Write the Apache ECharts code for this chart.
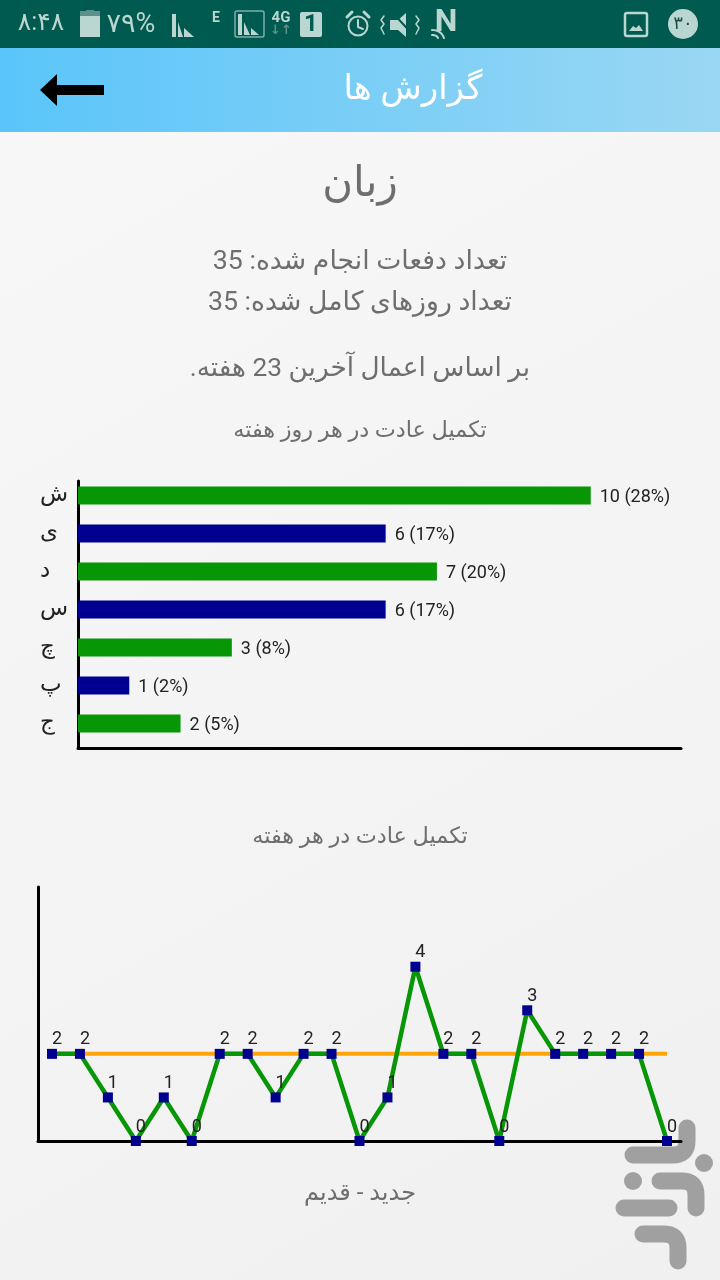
<!DOCTYPE html>
<html lang="fa">
<head>
<meta charset="utf-8">
<style>html,body{margin:0;padding:0;background:#f5f5f5}#c{width:720px;height:1280px}</style>
<script src="https://cdn.jsdelivr.net/npm/echarts@6/dist/echarts.min.js"></script>
</head>
<body>
<div id="c"></div>
<script>
const dayLabels = ['ش','ی','د','س','چ','پ','ج'];
const dayCounts = [10,6,7,6,3,1,2];
const dayPercents = [28,17,20,17,8,2,5];
const dayColors = ['#069606','#000090','#069606','#000090','#069606','#000090','#069606'];
const weekLabels = ['1','2','3','4','5','6','7','8','9','10','11','12','13','14','15','16','17','18','19','20','21','22','23'];
const weekCounts = [2,2,1,0,1,0,2,2,1,2,2,0,1,4,2,2,0,3,2,2,2,2,0];
const weekGoal = [2,2,2,2,2,2,2,2,2,2,2,2,2,2,2,2,2,2,2,2,2,2,2];

const FA = 'Roboto, "DejaVu Sans", sans-serif';
const GREY = '#6e6e6e';
const ICON = '#b9d6d0';
const text = (t, x, y, size, color, weight) => ({
  type:'text', x, y, z:5,
  style:{text:t, fill:color||GREY, font:`${weight||'normal'} ${size}px ${FA}`, textAlign:'center', textVerticalAlign:'middle'}
});
const rect = (x,y,w,h,fill,z) => ({type:'rect', z:z==null?1:z, shape:{x,y,width:w,height:h}, style:{fill}});
const poly = (pts,fill) => ({type:'polygon', z:3, shape:{points:pts}, style:{fill}});
const stroke = (pts,w,color,z) => ({type:'polyline', z:z==null?3:z, shape:{points:pts}, style:{fill:'none',stroke:color,lineWidth:w,lineCap:'round',lineJoin:'round'}});
const curve = (x0,y0,cx,cy,x1,y1) => {
  const out = [];
  for (let i = 0; i <= 8; i++) {
    const t = i / 8, u = 1 - t;
    out.push([u*u*x0 + 2*u*t*cx + t*t*x1, u*u*y0 + 2*u*t*cy + t*t*y1]);
  }
  return out;
};

const LOGO = '#a0a0a0';
const logo = [
  stroke([[687,1128],...curve(687,1141,687,1155,673,1155),[633,1155]],17,LOGO,-1),
  stroke([[660,1181],...curve(682,1181,696,1181,696,1195),[696,1208]],17,LOGO,-1),
  stroke([[624,1208],[669,1208]],17,LOGO,-1),
  stroke([[643,1234],...curve(664,1234,678,1234,678,1248),[678,1261]],17,LOGO,-1),
  {type:'circle',z:-1,shape:{cx:704,cy:1163,r:9},style:{fill:LOGO}},
  {type:'circle',z:-1,shape:{cx:633,cy:1181,r:9},style:{fill:LOGO}}
];

const statusBar = [
  rect(0,0,720,48,'#005a50',0),
  text('۸:۴۸',41,24,25,ICON),
  rect(80,15,20,22,ICON), rect(86,10,8,5,'#5c9088'), rect(80,11,20,5,'#5c9088'),
  text('۷۹%',131,25,27,ICON),
  poly([[172,37],[172,14],[176,14],[176,37]],ICON),
  poly([[178,37],[178,22],[183,37]],ICON), poly([[184,37],[184,28],[194,37]],ICON),
  text('E',216,18,14,ICON,'bold'),
  {type:'rect',z:2,shape:{x:235,y:11,width:29,height:26,r:2},style:{fill:'none',stroke:'#7fb0a8',lineWidth:1.5}},
  poly([[238,35],[238,14],[242,14],[242,35]],ICON),
  poly([[244,35],[244,22],[250,35]],ICON), poly([[251,35],[251,28],[259,35]],ICON),
  text('4G',281,18,15,ICON,'bold'),
  text('↓↑',281,31,13,'#5c9088','bold'),
  {type:'rect',z:2,shape:{x:300,y:12,width:22,height:25,r:2},style:{fill:ICON}},
  text('1',311,25,24,'#005a50','bold'),
  {type:'circle',z:2,shape:{cx:358,cy:26,r:9.5},style:{fill:'none',stroke:ICON,lineWidth:2}},
  stroke([[358,20],[358,27],[363,29]],2,ICON),
  stroke([[347,17],[352,12]],3,ICON),
  stroke([[364,12],[369,17]],3,ICON),
  poly([[398,20],[406,13],[406,37],[398,30],[390,30],[390,20]],ICON),
  stroke([[392,12],[414,36]],2,'#005a50'),
  stroke([[384,16],[381,20],[384,24],[381,28],[384,34]],1.5,ICON),
  stroke([[416,16],[419,20],[416,24],[419,28],[416,34]],1.5,ICON),
  text('N',446,23,32,ICON,'bold'),
  stroke(curve(432,31,440,31,442,38),2.5,'#005a50'),
  stroke(curve(432,30,441,30,444,38),2,ICON),
  stroke(curve(432,35,437,35,438,38),2,ICON),
  {type:'rect',z:2,shape:{x:625,y:13,width:22,height:23,r:2},style:{fill:'none',stroke:ICON,lineWidth:2.5}},
  poly([[629,31],[633,26],[636,28],[639,25],[643,31]],ICON),
  {type:'circle',z:2,shape:{cx:683,cy:24,r:15},style:{fill:ICON}},
  text('۳۰',683,24,18,'#1f4f48')
];

const header = [
  {type:'rect',z:0,shape:{x:0,y:48,width:720,height:84},style:{fill:new echarts.graphic.LinearGradient(0,0,1,0,[{offset:0,color:'#5ac5fa'},{offset:1,color:'#9ad7f3'}])}},
  text('گزارش ها',413,90,34,'#ffffff'),
  poly([[40,90],[57,74],[57,85],[104,85],[104,95],[57,95],[57,106]],'#000000')
];

const body = [
  text('زبان',360,185,42),
  text('تعداد دفعات انجام شده: 35',360,262,26.7),
  text('تعداد روزهای کامل شده: 35',360,303,26.7),
  text('بر اساس اعمال آخرین 23 هفته.\u200F',360,369,26.3),
  text('تکمیل عادت در هر روز هفته',360,431,22.4),
  text('تکمیل عادت در هر هفته',360,837,22.4),
  text('جدید - قدیم',360,1194,24)
];

const frameAxis = {show:true, type:'value', min:0, max:1, axisLine:{show:true,onZero:false,lineStyle:{color:'#000',width:3}}, axisTick:{show:false}, axisLabel:{show:false}, splitLine:{show:false}};
const hiddenLine = {show:false};

const chart = echarts.init(document.getElementById('c'), null, {renderer:'canvas', width:720, height:1280});
chart.setOption({
  animation:false,
  backgroundColor:new echarts.graphic.LinearGradient(0,0,1,1,[{offset:0,color:'#f8f8f8'},{offset:1,color:'#f0f0f0'}]),
  grid:[
    {left:78, top:476.5, width:603, height:266},
    {left:78, top:481, width:603, height:267},
    {left:38, top:887, width:643, height:254}
  ],
  xAxis:[
    {gridIndex:0,type:'value',min:0,max:11.76,axisLine:hiddenLine,axisTick:hiddenLine,axisLabel:hiddenLine,splitLine:hiddenLine},
    Object.assign({gridIndex:1},frameAxis),
    {gridIndex:2,type:'category',data:weekLabels,boundaryGap:true,axisLine:{show:true,lineStyle:{color:'#000',width:3}},axisTick:hiddenLine,axisLabel:hiddenLine}
  ],
  yAxis:[
    {gridIndex:0,type:'category',inverse:true,data:dayLabels,axisLine:hiddenLine,axisTick:hiddenLine,
     axisLabel:{color:'#222',fontSize:23,fontFamily:FA,margin:38,align:'left'}},
    Object.assign({gridIndex:1},frameAxis),
    {gridIndex:2,type:'value',min:0,max:5.83,axisLine:{show:true,lineStyle:{color:'#000',width:3}},axisTick:hiddenLine,axisLabel:hiddenLine,splitLine:hiddenLine}
  ],
  series:[
    {type:'bar',xAxisIndex:0,yAxisIndex:0,barWidth:18,data:dayCounts,
     itemStyle:{color:p=>dayColors[p.dataIndex]},
     label:{show:true,position:'right',distance:9,color:'#222',fontSize:18,fontFamily:'Roboto, sans-serif',
       formatter:p=>`${p.value} (${dayPercents[p.dataIndex]}%)`},
     labelLayout:{dy:2}},
    {type:'line',xAxisIndex:2,yAxisIndex:2,data:weekGoal,showSymbol:false,symbol:'none',z:2,
     lineStyle:{color:'#ffa505',width:4}},
    {type:'line',xAxisIndex:2,yAxisIndex:2,data:weekCounts,symbol:'rect',symbolSize:10,z:3,showAllSymbol:true,
     lineStyle:{color:'#069606',width:4.5},itemStyle:{color:'#000090'},
     label:{show:true,position:'top',distance:4,color:'#222',fontSize:18,fontFamily:'Roboto, sans-serif'},
     labelLayout:{dx:5,dy:4,hideOverlap:false}}
  ],
  graphic:{elements:[].concat(logo,statusBar,header,body)}
});
</script>
</body>
</html>
